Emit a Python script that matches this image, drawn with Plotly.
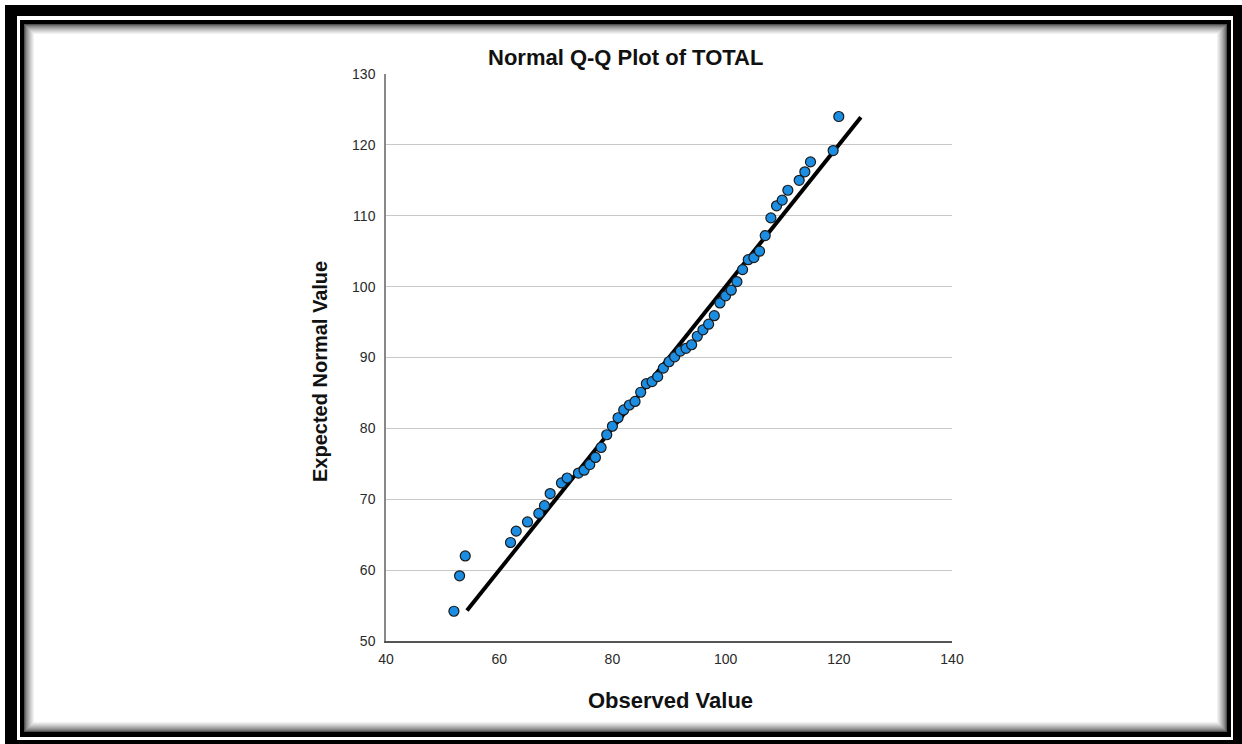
import plotly.graph_objects as go

# ---- data ----
observed = [52, 53, 54, 62, 63, 65, 67, 68, 69, 71, 72, 74, 75, 76, 77, 78, 79, 80,
            81, 82, 83, 84, 85, 86, 87, 88, 89, 90, 91, 92, 93, 94, 95, 96, 97, 98,
            99, 100, 101, 102, 103, 104, 105, 106, 107, 108, 109, 110, 111, 113, 114,
            115, 119, 120]
expected = [54.2, 59.2, 62.0, 63.9, 65.5, 66.8, 68.0, 69.1, 70.8, 72.3, 73.0, 73.7,
            74.1, 74.9, 75.9, 77.3, 79.1, 80.3, 81.5, 82.6, 83.3, 83.8, 85.1, 86.3,
            86.6, 87.3, 88.5, 89.4, 90.1, 90.9, 91.3, 91.8, 93.0, 93.9, 94.7, 95.9,
            97.7, 98.7, 99.5, 100.7, 102.4, 103.8, 104.1, 105.0, 107.2, 109.7, 111.4,
            112.2, 113.6, 115.0, 116.2, 117.6, 119.2, 124.0]
ref_line_x = [54.3, 123.9]
ref_line_y = [54.3, 123.9]

x_ticks = [40, 60, 80, 100, 120, 140]
y_ticks = [50, 60, 70, 80, 90, 100, 110, 120, 130]

W, H = 1242, 744
ML, MR, MT, MB = 386, 290, 74, 103
PW, PH = W - ML - MR, H - MT - MB

def px(x):
    return (x - ML) / PW

def py(y):
    return (H - MB - y) / PH

FONT = "Liberation Sans, Arial, sans-serif"

fig = go.Figure()
fig.add_trace(go.Scatter(
    x=ref_line_x, y=ref_line_y, mode="lines",
    line=dict(color="black", width=4), hoverinfo="skip", showlegend=False))
fig.add_trace(go.Scatter(
    x=observed, y=expected, mode="markers",
    marker=dict(size=10, color="#1b8ee4", line=dict(color="#1a1a1a", width=1.2)),
    showlegend=False))

shapes = []

def rect(x0, y0, x1, y1, color):
    shapes.append(dict(type="rect", xref="paper", yref="paper",
                       x0=px(x0), x1=px(x1), y0=py(y1), y1=py(y0),
                       fillcolor=color, line=dict(width=0), layer="below"))

# outer thick frame
rect(5, 5, W + 2, H + 2, "black")
rect(17, 16, 1233, 740, "white")
# inner line
rect(20, 20, 1231, 737, "black")
# shadow gradient inside
steps = 11
for i in range(steps):
    g = int(80 + (255 - 80) * (i / (steps - 1)) ** 0.7)
    rect(24 + i, 24 + i, 1227 - i, 732 - i, f"rgb({g},{g},{g})")
rect(24 + steps, 24 + steps, 1227 - steps, 732 - steps, "white")

annotations = [
    dict(text="<b>Normal Q-Q Plot of TOTAL</b>", x=px(625), y=py(57), xref="paper", yref="paper",
         showarrow=False, font=dict(family=FONT, size=22, color="#111111"),
         xanchor="center", yanchor="middle"),
    dict(text="<b>Observed Value</b>", x=px(670), y=py(700), xref="paper", yref="paper",
         showarrow=False, font=dict(family=FONT, size=22, color="#111111"),
         xanchor="center", yanchor="middle"),
    dict(text="<b>Expected Normal Value</b>", x=px(320), y=py(372), xref="paper", yref="paper",
         showarrow=False, textangle=-90, font=dict(family=FONT, size=20, color="#111111"),
         xanchor="center", yanchor="middle"),
]

fig.update_layout(
    width=W, height=H,
    margin=dict(l=ML, r=MR, t=MT, b=MB),
    paper_bgcolor="white", plot_bgcolor="rgba(0,0,0,0)",
    shapes=shapes, annotations=annotations,
    font=dict(family=FONT, size=14, color="#2a2a2a"),
    xaxis=dict(range=[40, 140], tickvals=x_ticks, showgrid=False, zeroline=False,
               showline=True, linecolor="#555555", linewidth=1.5, ticks="",
               ticklabelstandoff=4, tickfont=dict(size=14, color="#2a2a2a")),
    yaxis=dict(range=[50, 130], tickvals=y_ticks, showgrid=True, gridcolor="#c8c8c8",
               gridwidth=1.3, zeroline=False, showline=True, linecolor="#888888",
               linewidth=1.5, ticks="", ticklabelstandoff=6,
               tickfont=dict(size=14, color="#2a2a2a")),
)

fig.write_html("out.html", config={"displayModeBar": False},
               post_script="document.body.style.margin='0';")
